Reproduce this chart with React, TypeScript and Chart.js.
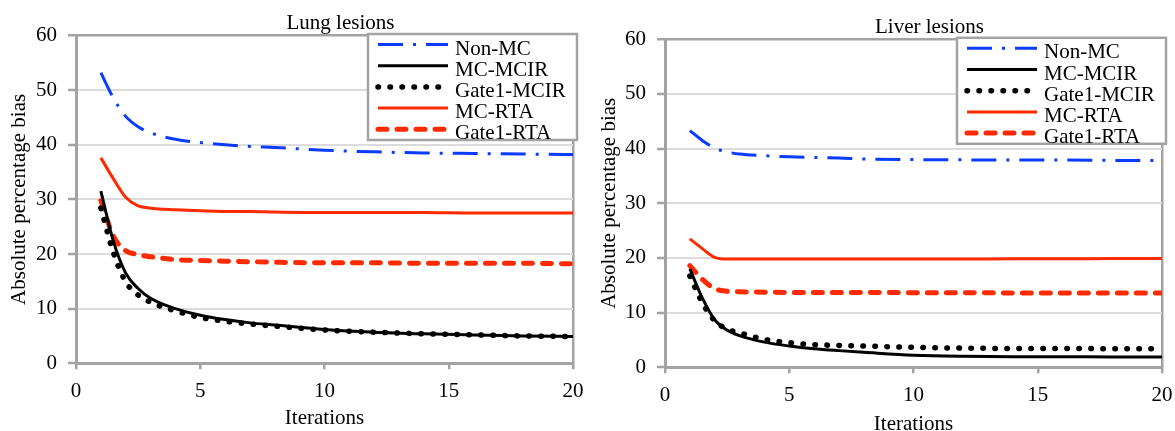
import React, { useEffect, useRef } from "react";
import { Chart, registerables } from "chart.js";

Chart.register(...registerables);

// ---------- data ----------
const iterations = [1, 1.5, 2, 2.5, 3, 4, 5, 6, 7, 8, 10, 12, 14, 16, 18, 20];
const seriesNames = ["Non-MC", "MC-MCIR", "Gate1-MCIR", "MC-RTA", "Gate1-RTA"];
const xTicks = [0, 5, 10, 15, 20];
const yTicks = [0, 10, 20, 30, 40, 50, 60];

const lungNonMC = [53.2, 48.6, 45.2, 43.3, 42.2, 41.0, 40.4, 40.0, 39.7, 39.5, 39.0, 38.7, 38.5, 38.4, 38.3, 38.2];
const lungMCMCIR = [31.5, 22.4, 16.5, 13.7, 11.9, 10.0, 8.8, 8.0, 7.4, 7.0, 6.2, 5.7, 5.4, 5.2, 5.0, 4.9];
const lungGate1MCIR = [28.4, 20.3, 14.9, 12.5, 11.2, 9.6, 8.4, 7.7, 7.2, 6.8, 6.1, 5.7, 5.4, 5.2, 5.0, 4.9];
const lungMCRTA = [37.6, 33.8, 30.4, 28.8, 28.4, 28.1, 27.9, 27.8, 27.8, 27.7, 27.6, 27.6, 27.6, 27.5, 27.5, 27.5];
const lungGate1RTA = [29.8, 23.3, 20.6, 19.9, 19.5, 19.0, 18.8, 18.7, 18.6, 18.5, 18.4, 18.4, 18.3, 18.3, 18.3, 18.2];

const liverNonMC = [43.3, 41.5, 40.1, 39.4, 39.0, 38.7, 38.5, 38.4, 38.3, 38.1, 38.0, 37.95, 37.9, 37.9, 37.85, 37.8];
const liverMCMCIR = [18.0, 12.7, 8.7, 6.8, 5.8, 4.6, 3.9, 3.4, 3.05, 2.75, 2.2, 2.0, 1.95, 1.95, 1.9, 1.9];
const liverGate1MCIR = [16.7, 11.8, 8.5, 7.0, 6.3, 5.1, 4.5, 4.15, 4.0, 3.9, 3.65, 3.5, 3.45, 3.45, 3.4, 3.4];
const liverMCRTA = [23.5, 21.7, 20.1, 19.8, 19.8, 19.8, 19.8, 19.8, 19.8, 19.8, 19.8, 19.8, 19.85, 19.85, 19.9, 19.9];
const liverGate1RTA = [18.6, 16.1, 14.4, 13.9, 13.8, 13.75, 13.7, 13.7, 13.7, 13.7, 13.65, 13.65, 13.6, 13.6, 13.6, 13.6];

// ---------- styles ----------
const FONT = "'Liberation Serif', 'Times New Roman', serif";
const BLUE = "#0a3cff";
const RED = "#ff2a00";
const AXIS_GRAY = "#a3a3a3";
const GRID_GRAY = "#dcdcdc";

const seriesStyles: any[] = [
  { borderColor: BLUE, borderWidth: 3, borderDash: [25, 10, 3, 10], borderCapStyle: "butt" },
  { borderColor: "#000000", borderWidth: 3, borderDash: [], borderCapStyle: "butt" },
  { borderColor: "#000000", borderWidth: 5.5, borderDash: [0.5, 11.5], borderCapStyle: "round" },
  { borderColor: RED, borderWidth: 3, borderDash: [], borderCapStyle: "butt" },
  { borderColor: RED, borderWidth: 5, borderDash: [9, 10], borderCapStyle: "round" },
];

const decorPlugin = {
  id: "panelDecor",
  afterDraw(chart: any, _args: any, opts: any) {
    const { ctx, chartArea } = chart;
    ctx.save();
    ctx.font = `21px ${FONT}`;
    ctx.fillStyle = "#000";
    ctx.textAlign = "center";
    ctx.textBaseline = "alphabetic";
    ctx.fillText(opts.title, chartArea.left + 264.5, chartArea.top - 6.2);

    const bx = chartArea.right - 205;
    const by = chartArea.top - 1.5;
    const bw = 209;
    const bh = 106;
    ctx.fillStyle = "#fff";
    ctx.fillRect(bx, by, bw, bh);
    ctx.strokeStyle = AXIS_GRAY;
    ctx.lineWidth = 2.5;
    ctx.strokeRect(bx, by, bw, bh);
    chart.data.datasets.forEach((ds: any, i: number) => {
      const y = by + 10.5 + 21.2 * i;
      ctx.save();
      ctx.strokeStyle = ds.borderColor;
      ctx.lineWidth = ds.borderWidth;
      ctx.setLineDash(ds.borderDash || []);
      ctx.lineCap = ds.borderCapStyle || "butt";
      ctx.beginPath();
      ctx.moveTo(bx + 10, y);
      ctx.lineTo(bx + 80, y);
      ctx.stroke();
      ctx.restore();
      ctx.fillStyle = "#000";
      ctx.textAlign = "left";
      ctx.textBaseline = "alphabetic";
      ctx.font = `21px ${FONT}`;
      ctx.fillText(ds.label, bx + 87, y + 10);
    });
    ctx.restore();
  },
};

type PanelProps = {
  title: string;
  values: number[][];
  left: number;
  width: number;
  plotTop: number;
  yWidth: number;
  xHeight: number;
  padRight: number;
  yTitlePad: number;
  xTitleLH: number;
};

function Panel(p: PanelProps) {
  const ref = useRef<HTMLCanvasElement>(null);
  useEffect(() => {
    const chart = new Chart(ref.current as HTMLCanvasElement, {
      type: "line",
      data: {
        datasets: seriesNames.map((name, i) => ({
          label: name,
          data: iterations.map((x, j) => ({ x, y: p.values[i][j] })),
          ...seriesStyles[i],
          pointRadius: 0,
          pointHoverRadius: 0,
          fill: false,
          cubicInterpolationMode: "monotone",
        })),
      },
      options: {
        responsive: false,
        animation: false,
        events: [],
        layout: { padding: { top: p.plotTop, right: p.padRight, left: 0, bottom: 0 } },
        plugins: {
          legend: { display: false },
          tooltip: { enabled: false },
          title: { display: false },
          panelDecor: { title: p.title },
        } as any,
        scales: {
          x: {
            type: "linear",
            min: 0,
            max: 20,
            afterBuildTicks: (s: any) => {
              s.ticks = xTicks.map((v) => ({ value: v }));
            },
            afterFit: (s: any) => {
              s.height = p.xHeight;
              s.paddingLeft = 0;
              s.paddingRight = 0;
            },
            ticks: {
              color: "#000",
              font: { family: FONT, size: 21 },
              padding: 10,
              maxRotation: 0,
            },
            grid: {
              drawOnChartArea: true,
              color: (c: any) => (c.tick && c.tick.value === 20 ? AXIS_GRAY : "rgba(0,0,0,0)"),
              lineWidth: 2.5,
              tickColor: AXIS_GRAY,
              tickWidth: 2.5,
              tickLength: 6,
            },
            border: { display: true, color: AXIS_GRAY, width: 3 },
            title: {
              display: true,
              text: "Iterations",
              color: "#000",
              font: { family: FONT, size: 21, lineHeight: p.xTitleLH },
              padding: { top: 0, bottom: 0 },
            },
          },
          y: {
            type: "linear",
            min: 0,
            max: 60,
            afterBuildTicks: (s: any) => {
              s.ticks = yTicks.map((v) => ({ value: v }));
            },
            afterFit: (s: any) => {
              s.width = p.yWidth;
              s.paddingTop = 0;
              s.paddingBottom = 0;
            },
            ticks: {
              color: "#000",
              font: { family: FONT, size: 21 },
              padding: 11,
            },
            grid: {
              color: (c: any) =>
                c.tick && c.tick.value === 60
                  ? AXIS_GRAY
                  : c.tick && c.tick.value === 0
                  ? "rgba(0,0,0,0)"
                  : GRID_GRAY,
              lineWidth: (c: any) => (c.tick && c.tick.value === 60 ? 2.5 : 2),
              tickColor: AXIS_GRAY,
              tickWidth: 2.5,
              tickLength: 8,
            },
            border: { display: true, color: AXIS_GRAY, width: 3 },
            title: {
              display: true,
              text: "Absolute percentage bias",
              color: "#000",
              font: { family: FONT, size: 21, lineHeight: 1.2 },
              padding: { top: p.yTitlePad, bottom: 0 },
            },
          },
        },
      } as any,
      plugins: [decorPlugin as any],
    });
    return () => chart.destroy();
  }, []);
  return (
    <canvas
      ref={ref}
      width={p.width}
      height={431}
      style={{ position: "absolute", left: p.left, top: 0, width: p.width, height: 431 }}
    />
  );
}

export default function App() {
  return (
    <div
      style={{
        position: "absolute",
        left: 0,
        top: 0,
        width: 1175,
        height: 431,
        background: "#fff",
        overflow: "hidden",
      }}
    >
      <Panel
        title="Lung lesions"
        values={[lungNonMC, lungMCMCIR, lungGate1MCIR, lungMCRTA, lungGate1RTA]}
        left={0}
        width={588}
        plotTop={35.5}
        yWidth={76}
        xHeight={67.7}
        padRight={15}
        yTitlePad={7}
        xTitleLH={1.2}
      />
      <Panel
        title="Liver lesions"
        values={[liverNonMC, liverMCMCIR, liverGate1MCIR, liverMCRTA, liverGate1RTA]}
        left={588}
        width={587}
        plotTop={39.3}
        yWidth={77}
        xHeight={63.7}
        padRight={13}
        yTitlePad={9}
        xTitleLH={0.62}
      />
    </div>
  );
}
